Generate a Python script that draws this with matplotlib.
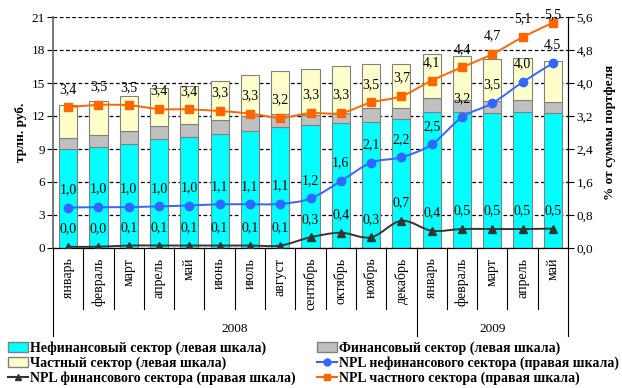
import matplotlib
matplotlib.use('Agg')
import matplotlib.pyplot as plt
import numpy as np
from matplotlib.path import Path
from matplotlib.patches import PathPatch, Patch
from matplotlib.lines import Line2D
import matplotlib.transforms as mtransforms

plt.rcParams['font.family'] = ['Liberation Serif', 'DejaVu Serif']

months = ['январь', 'февраль', 'март', 'апрель', 'май', 'июнь', 'июль', 'август',
          'сентябрь', 'октябрь', 'ноябрь', 'декабрь',
          'январь', 'февраль', 'март', 'апрель', 'май']
years = ['2008', '2009']
year_counts = [12, 5]

# stacked bars, trillion rubles (left axis)
nonfin = [8.97, 9.2, 9.5, 9.88, 10.1, 10.4, 10.67, 10.97, 11.2, 11.35, 11.5, 11.7,
          12.4, 12.4, 12.25, 12.33, 12.25]
fin = [1.0, 1.05, 1.1, 1.22, 1.2, 1.2, 1.33, 1.23, 0.9, 0.95, 1.2, 1.0,
       1.2, 1.1, 1.11, 1.17, 1.0]
private = [3.03, 3.11, 3.25, 3.4, 3.45, 3.6, 3.7, 3.9, 4.17, 4.25, 4.0, 4.0,
           4.0, 4.0, 3.84, 3.8, 3.75]

# NPL, % of portfolio (right axis)
npl_nonfin = [0.98, 0.99, 0.99, 1.01, 1.03, 1.06, 1.06, 1.07, 1.2, 1.62, 2.07, 2.2,
              2.51, 3.17, 3.51, 4.02, 4.48]
npl_fin = [0.03, 0.03, 0.06, 0.06, 0.06, 0.06, 0.06, 0.06, 0.26, 0.37, 0.26, 0.66,
           0.42, 0.46, 0.46, 0.46, 0.47]
npl_private = [3.41, 3.47, 3.46, 3.37, 3.36, 3.32, 3.26, 3.16, 3.27, 3.27, 3.53, 3.68,
               4.06, 4.38, 4.70, 5.11, 5.46]

labels = ['Нефинансовый сектор (левая шкала)', 'Частный сектор (левая шкала)',
          'NPL финансового сектора (правая шкала)', 'Финансовый сектор (левая шкала)',
          'NPL нефинансового сектора (правая шкала)', 'NPL частного сектора (правая шкала)']

C_NONFIN = '#00FFFF'
C_FIN = '#C0C0C0'
C_PRIV = '#FFFFCC'
C_EDGE = '#808080'
C_BLUE = '#3366FF'
C_BLACK = '#333333'
C_ORANGE = '#FF6600'

fig = plt.figure(figsize=(6.22, 3.88), dpi=100)
ax = fig.add_axes([53/622, 1-248/388, (568-53)/622, (248-17)/388])
ax2 = ax.twinx()

x = np.arange(len(months))
w = 0.6
nf = np.array(nonfin); fi = np.array(fin); pr = np.array(private)
ax.bar(x, nf, w, color=C_NONFIN, edgecolor=C_EDGE, lw=0.8, zorder=2)
ax.bar(x, fi, w, bottom=nf, color=C_FIN, edgecolor=C_EDGE, lw=0.8, zorder=2)
ax.bar(x, pr, w, bottom=nf+fi, color=C_PRIV, edgecolor=C_EDGE, lw=0.8, zorder=2)

ax.set_xlim(-0.5, len(months)-0.5)
ax.set_ylim(0, 21)
ax.set_yticks(np.arange(0, 22, 3))
ax.yaxis.grid(True, linestyle=(0, (3, 2)), color='black', lw=0.9)
ax.set_axisbelow(True)
ax.tick_params(axis='y', direction='out', length=4, labelsize=9.5, pad=2)
ax.set_xticks(x)
ax.set_xticklabels(months, rotation=90, fontsize=10, va='top')
ax.tick_params(axis='x', length=0, pad=7)
ax.set_ylabel('трлн. руб.', fontsize=9.5, fontweight='bold', labelpad=3)

ax2.set_ylim(0, 5.6)
ax2.set_yticks(np.arange(0, 5.61, 0.8))
ax2.set_yticklabels([f'{v:.1f}'.replace('.', ',') for v in np.arange(0, 5.61, 0.8)])
ax2.tick_params(axis='y', direction='out', length=4, labelsize=9.5, pad=2)
ax2.set_ylabel('% от суммы портфеля', fontsize=9.5, fontweight='bold', labelpad=8)

for a in (ax, ax2):
    a.spines['top'].set_visible(False)
ax.spines['left'].set_color('#606060')
ax.spines['left'].set_linewidth(1.2)
ax2.spines['left'].set_visible(False)


def smooth_path(xs, ys):
    xs = list(xs); ys = list(ys)
    n = len(xs)
    verts = [(xs[0], ys[0])]
    codes = [Path.MOVETO]
    for i in range(n-1):
        xm, ym = (xs[i-1], ys[i-1]) if i > 0 else (xs[i], ys[i])
        xp, yp = (xs[i+2], ys[i+2]) if i+2 < n else (xs[i+1], ys[i+1])
        c1 = (xs[i] + (xs[i+1]-xm)/6, ys[i] + (ys[i+1]-ym)/6)
        c2 = (xs[i+1] - (xp-xs[i])/6, ys[i+1] - (yp-ys[i])/6)
        verts += [c1, c2, (xs[i+1], ys[i+1])]
        codes += [Path.CURVE4]*3
    return Path(verts, codes)


series = [(npl_nonfin, C_BLUE, 'o', 6), (npl_fin, C_BLACK, '^', 6), (npl_private, C_ORANGE, 's', 5.5)]
for vals, col, mk, ms in series:
    ax2.add_patch(PathPatch(smooth_path(x, vals), facecolor='none', edgecolor=col, lw=1.4, zorder=3))
    ax2.plot(x, vals, linestyle='none', marker=mk, color=col, ms=ms, zorder=4)
    for xi, v in zip(x, vals):
        # labels near the top edge are pulled down to stay inside the picture
        off = 13 if v < 5.3 else 6
        ax2.annotate(f'{v:.1f}'.replace('.', ','), (xi, v), xytext=(0, off), textcoords='offset points',
                     ha='center', va='center', fontsize=10, zorder=5)

# category separators and year labels below the axis
trans = mtransforms.blended_transform_factory(ax.transData, ax.transAxes)
bounds = np.arange(-0.5, len(months), 1.0)
year_edges = np.concatenate([[0], np.cumsum(year_counts)]) - 0.5
for b in bounds:
    low = -0.381 if np.any(np.isclose(b, year_edges)) else -0.264
    ax.plot([b, b], [0, low], transform=trans, color='black', lw=0.8, clip_on=False)
for i, yr in enumerate(years):
    cx = (year_edges[i] + year_edges[i+1]) / 2
    ax.text(cx, -0.35, yr, transform=trans, ha='center', va='center', fontsize=9.5)

handles = [Patch(facecolor=C_NONFIN, edgecolor=C_EDGE),
           Patch(facecolor=C_PRIV, edgecolor=C_EDGE),
           Line2D([], [], color=C_BLACK, marker='^', ms=5, lw=1.5),
           Patch(facecolor=C_FIN, edgecolor=C_EDGE),
           Line2D([], [], color=C_BLUE, marker='o', ms=5, lw=1.5),
           Line2D([], [], color=C_ORANGE, marker='s', ms=5, lw=1.5)]
leg = fig.legend(handles, labels, ncol=2, loc='upper left', bbox_to_anchor=(8/622, 1-341/388),
                 frameon=False, prop={'weight': 'bold', 'size': 10}, handlelength=1.45,
                 handletextpad=0.15, columnspacing=1.5, labelspacing=0.12, borderaxespad=0, borderpad=0)

fig.savefig('out.png', dpi=100)
